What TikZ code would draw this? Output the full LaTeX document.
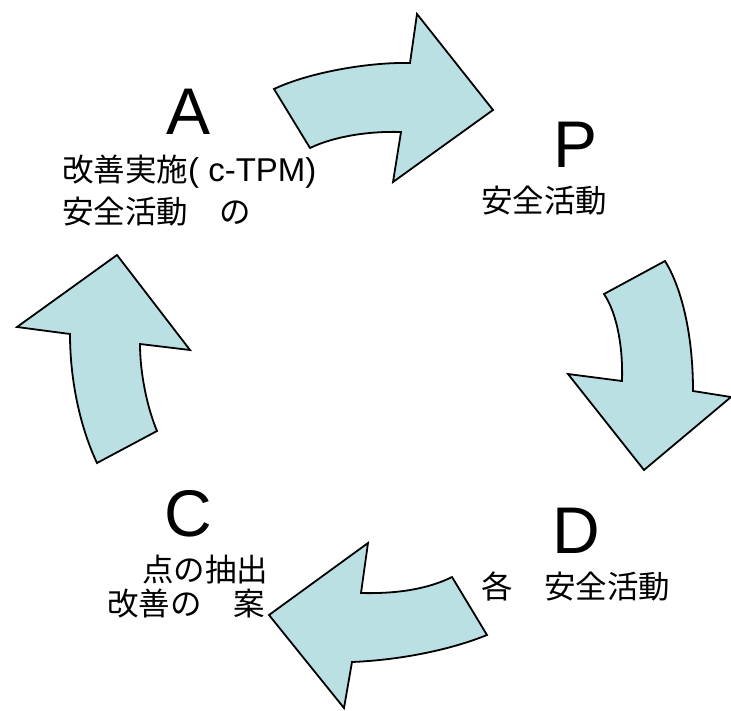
\documentclass[tikz,border=0pt]{standalone}
\usepackage{fontspec}
\setmainfont{Liberation Sans}
\newfontfamily\jp{Noto Sans CJK JP}
\definecolor{arrowfill}{RGB}{187,224,227}
\tikzset{
  blockarrow/.style={fill=arrowfill, draw=black, line width=1.8pt, line join=miter},
  bigletter/.style={anchor=base west, inner sep=0pt, font=\fontsize{66}{70}\selectfont},
  smalltext/.style={anchor=base west, inner sep=0pt, font=\fontsize{31.5}{34}\selectfont\jp},
}
\begin{document}
\begin{tikzpicture}[x=1pt,y=-1pt]
\useasboundingbox (0,0) rectangle (731,710);
\clip (0,0) rectangle (731,710);
% top arrow (A -> P)
\draw[blockarrow] (274,89) .. controls (310,72) and (370,62) .. (410,63)
  -- (417,14) -- (493,110) -- (393,182) -- (401,132)
  .. controls (370,131) and (335,136) .. (310,148) -- cycle;
% right arrow (P -> D)
\draw[blockarrow] (604,294) -- (665,261) .. controls (680,285) and (693,330) .. (693,391)
  -- (731,397) -- (644,470) -- (568,374) -- (622,381)
  .. controls (623,350) and (618,315) .. (604,294) -- cycle;
% bottom arrow (D -> C)
\draw[blockarrow] (452,577) -- (487,635) .. controls (450,650) and (400,660) .. (352,662)
  -- (344,708) -- (269,615) -- (368,543) -- (361,593)
  .. controls (400,594) and (430,588) .. (452,577) -- cycle;
% left arrow (C -> A)
\draw[blockarrow] (97,463) .. controls (80,427) and (70,380) .. (70,334)
  -- (17,327) -- (117,255) -- (190,350) -- (140,344)
  .. controls (140,373) and (147,407) .. (157,431) -- cycle;
% labels
\node[bigletter] (la) at (166,134) {A};
\node[smalltext] (la1) at (62,181) {改善実施{\rmfamily\fontsize{33}{34}\selectfont( c-TPM)}};
\node[smalltext] (la2) at (62,223) {安全活動　の};
\node[bigletter] (lp) at (553,167) {P};
\node[smalltext] (lp1) at (481,212) {安全活動};
\node[bigletter] (ld) at (552,553) {D};
\node[smalltext] (ld1) at (481,598) {各　安全活動};
\node[bigletter] (lc) at (164,536) {C};
\node[smalltext] (lc1) at (142,581) {点の抽出};
\node[smalltext] (lc2) at (107,615) {改善の　案};
\end{tikzpicture}
\end{document}
